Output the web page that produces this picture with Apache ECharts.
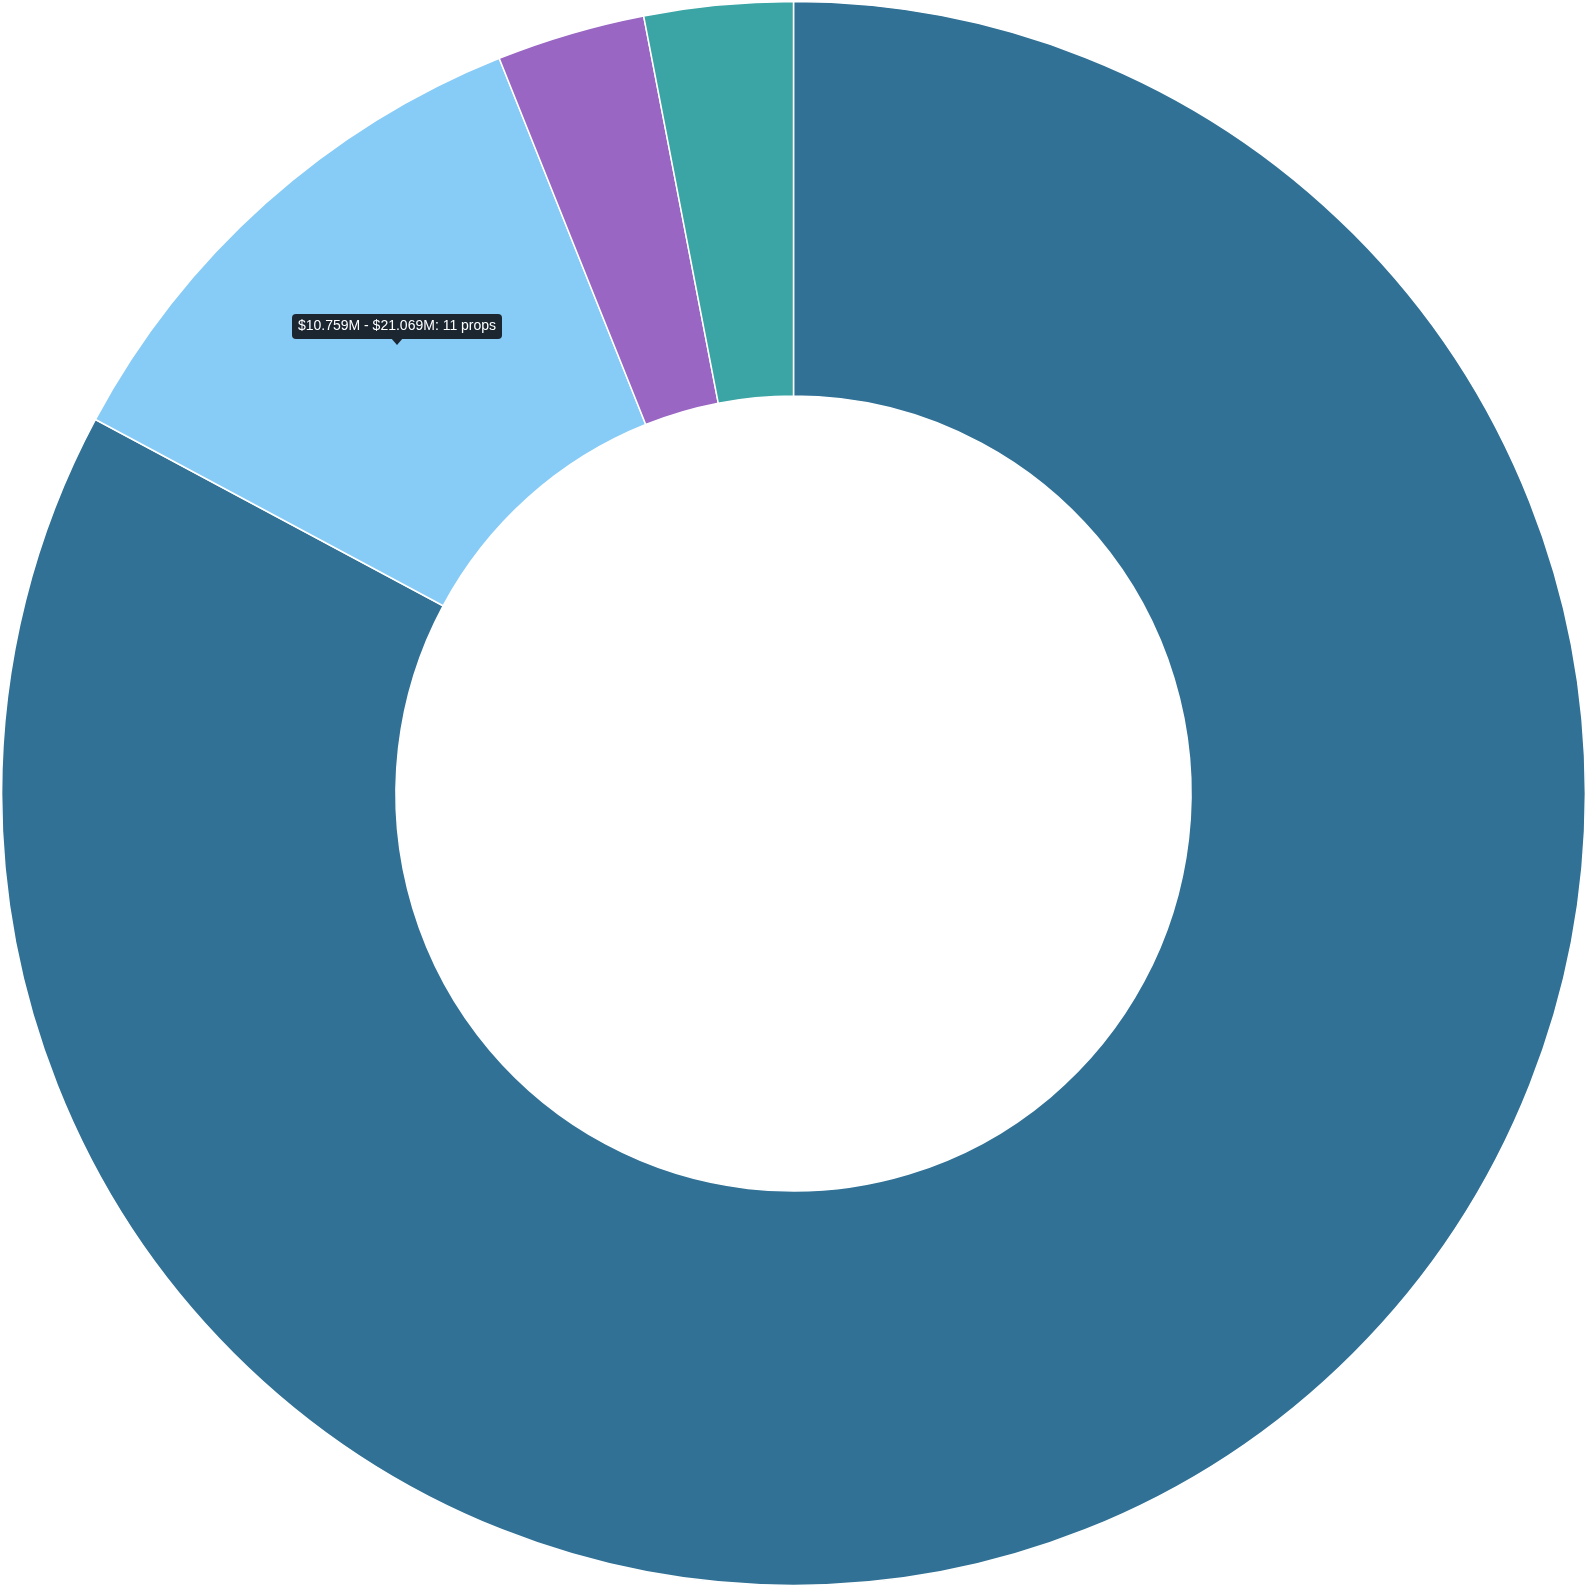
<!DOCTYPE html>
<html>
<head>
<meta charset="utf-8">
<script src="https://cdn.jsdelivr.net/npm/echarts@6/dist/echarts.min.js"></script>
<style>
  html, body { margin: 0; padding: 0; background: #ffffff; }
  #chart { width: 1587px; height: 1587px; }
</style>
</head>
<body>
<div id="chart"></div>
<script>
const categories = ['$0.449M - $10.759M', '$10.759M - $21.069M', '$21.069M - $31.379M', '$31.379M - $41.689M'];
const propCounts = [82, 11, 3, 3];
const sliceColors = ['#317196', '#87cbf7', '#9966c3', '#3ba5a5'];
const tooltipText = categories[1] + ': ' + propCounts[1] + ' props';

const chart = echarts.init(document.getElementById('chart'), null, { renderer: 'canvas' });
chart.setOption({
  animation: false,
  backgroundColor: '#ffffff',
  series: [{
    type: 'pie',
    center: ['50%', '50%'],
    radius: ['50.1%', '99.8%'],
    startAngle: 90,
    clockwise: true,
    z: 2,
    label: { show: false },
    labelLine: { show: false },
    itemStyle: { borderColor: '#ffffff', borderWidth: 1.5 },
    emphasis: { disabled: true },
    data: categories.map((c, i) => ({ name: c, value: propCounts[i], itemStyle: { color: sliceColors[i] } }))
  }],
  graphic: {
    elements: [{
      type: 'group',
      left: 292,
      top: 314,
      z: 100,
      zlevel: 1,
      children: [
        { type: 'polygon', z: 100, shape: { points: [[99, 24], [111, 24], [105, 31]] }, style: { fill: '#1b2631' } },
        { type: 'rect', z: 100, shape: { x: 0, y: 0, width: 210, height: 25, r: 4 }, style: { fill: '#1b2631' } },
        { type: 'text', z: 101, style: { text: tooltipText, x: 105, y: 12.5, align: 'center', verticalAlign: 'middle', fill: '#ffffff', font: '14px "Liberation Sans", Arial, sans-serif' } }
      ]
    }]
  }
});
</script>
</body>
</html>
